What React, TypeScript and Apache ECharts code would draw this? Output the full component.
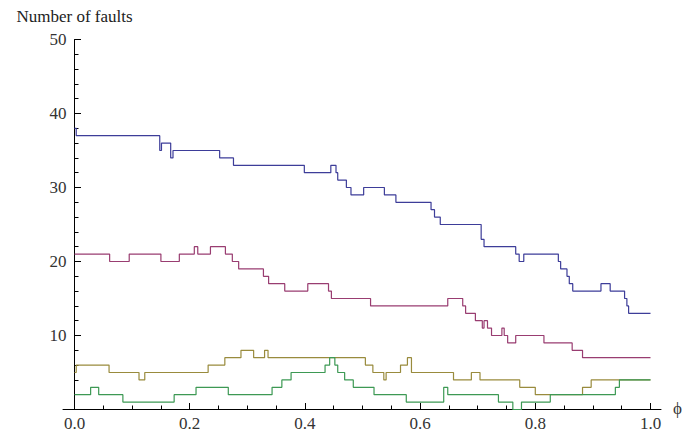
import React, { useEffect, useRef } from "react";
import * as echarts from "echarts";

// Step data: [phi, number of faults] at each change point
const blueSteps: [number, number][] = [
  [0, 38], [0.003, 37], [0.148, 35], [0.151, 36], [0.167, 34], [0.171, 35],
  [0.252, 34], [0.276, 33], [0.399, 32], [0.445, 33], [0.454, 32], [0.457, 31],
  [0.472, 30], [0.48, 29], [0.502, 30], [0.538, 29], [0.558, 28], [0.619, 27],
  [0.625, 26], [0.635, 25], [0.706, 23], [0.711, 22], [0.766, 21], [0.772, 20],
  [0.78, 21], [0.84, 20], [0.844, 19], [0.855, 18], [0.859, 17], [0.865, 16],
  [0.914, 17], [0.93, 16], [0.955, 15], [0.959, 14], [0.962, 13], [1.0, 13],
];
const purpleSteps: [number, number][] = [
  [0, 21], [0.061, 20], [0.095, 21], [0.15, 20], [0.182, 21], [0.208, 22],
  [0.214, 21], [0.236, 22], [0.262, 21], [0.274, 20], [0.285, 19], [0.328, 18],
  [0.337, 17], [0.365, 16], [0.405, 17], [0.441, 16], [0.446, 15], [0.514, 14],
  [0.648, 15], [0.674, 14], [0.679, 13], [0.696, 12], [0.708, 11], [0.711, 12],
  [0.717, 11], [0.724, 10], [0.742, 11], [0.746, 10], [0.752, 9], [0.766, 10],
  [0.815, 9], [0.864, 8], [0.882, 7], [1.0, 7],
];
const oliveSteps: [number, number][] = [
  [0, 5], [0.003, 6], [0.06, 5], [0.112, 4], [0.122, 5], [0.232, 6], [0.261, 7],
  [0.289, 8], [0.311, 7], [0.33, 8], [0.336, 7], [0.505, 6], [0.518, 5],
  [0.537, 4], [0.541, 5], [0.566, 6], [0.578, 7], [0.585, 5], [0.658, 4],
  [0.689, 5], [0.704, 4], [0.773, 3], [0.8, 2], [0.882, 3], [0.897, 4], [1.0, 4],
];
const greenSteps: [number, number][] = [
  [0, 2], [0.028, 3], [0.042, 2], [0.084, 1], [0.173, 2], [0.211, 3], [0.267, 2],
  [0.343, 3], [0.36, 4], [0.376, 5], [0.435, 6], [0.443, 7], [0.452, 6],
  [0.457, 5], [0.469, 4], [0.484, 3], [0.52, 2], [0.576, 1], [0.641, 3],
  [0.648, 2], [0.736, 1], [0.761, 0], [0.776, 1], [0.826, 2], [0.939, 3],
  [0.946, 4], [1.0, 4],
];

const seriesColors = ["#3d3d99", "#993d71", "#998b3d", "#3d9954"];
const yAxisTitle = "Number of faults";
const xAxisTitle = "ϕ";

const FONT = "'Liberation Serif', 'Times New Roman', serif";

export default function App() {
  const ref = useRef<HTMLDivElement>(null);

  useEffect(() => {
    if (!ref.current) return;
    const chart = echarts.init(ref.current, undefined, { renderer: "svg" });
    const allSteps = [blueSteps, purpleSteps, oliveSteps, greenSteps];
    chart.setOption({
      animation: false,
      backgroundColor: "#ffffff",
      grid: [
        { left: 74.5, right: 32.5, top: 39.5, bottom: 28.5 },
        { left: 63, right: 22, top: 39.5, bottom: 28.5 },
      ],
      graphic: [
        {
          type: "text",
          left: 673,
          top: 400,
          style: {
            text: xAxisTitle,
            fill: "#333",
            fontFamily: FONT,
            fontSize: 17,
          },
        },
      ],
      xAxis: [
        {
          type: "value",
          gridIndex: 0,
          min: 0,
          max: 1,
          interval: 0.2,
          axisLine: { show: false },
          axisTick: { show: true, inside: true, length: 6.5, lineStyle: { color: "#000", width: 1 } },
          minorTick: { show: true, splitNumber: 4, length: 4, lineStyle: { color: "#000", width: 1 } },
          splitLine: { show: false },
          axisLabel: {
            margin: 5,
            color: "#333",
            fontFamily: FONT,
            fontSize: 17,
            formatter: (v: number) => v.toFixed(1),
          },
        },
        {
          type: "value",
          gridIndex: 1,
          min: 0,
          max: 1,
          axisLine: { show: true, lineStyle: { color: "#000", width: 1 } },
          axisTick: { show: false },
          axisLabel: { show: false },
          splitLine: { show: false },
        },
      ],
      yAxis: [
        {
          type: "value",
          gridIndex: 0,
          min: 0,
          max: 50,
          interval: 10,
          axisLine: { show: true, onZero: false, lineStyle: { color: "#000", width: 1 } },
          axisTick: { show: true, inside: true, length: 6.5, lineStyle: { color: "#000", width: 1 } },
          minorTick: { show: true, splitNumber: 5, length: 4, lineStyle: { color: "#000", width: 1 } },
          splitLine: { show: false },
          axisLabel: {
            margin: 8,
            color: "#333",
            fontFamily: FONT,
            fontSize: 17,
            showMinLabel: false,
          },
          name: yAxisTitle,
          nameLocation: "end",
          nameGap: 23,
          nameTextStyle: {
            color: "#222",
            fontFamily: FONT,
            fontSize: 17,
            align: "center",
            verticalAlign: "middle",
          },
        },
        { type: "value", gridIndex: 1, show: false, min: 0, max: 50 },
      ],
      series: allSteps.map((steps, i) => ({
        type: "line",
        xAxisIndex: 0,
        yAxisIndex: 0,
        step: "end",
        showSymbol: false,
        symbol: "none",
        data: steps,
        lineStyle: { color: seriesColors[i], width: 1.2 },
        itemStyle: { color: seriesColors[i] },
        emphasis: { disabled: true },
        silent: true,
        z: 2 + i,
      })),
    });
    return () => chart.dispose();
  }, []);

  return (
    <div
      ref={ref}
      style={{ position: "absolute", left: 0, top: 0, width: 683, height: 438 }}
    />
  );
}
